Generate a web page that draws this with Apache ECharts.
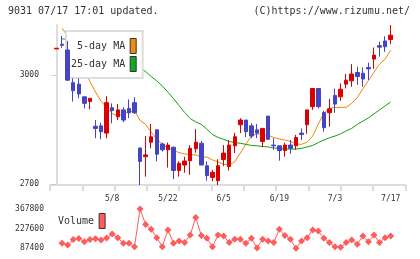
<!DOCTYPE html>
<html>
<head>
<meta charset="utf-8">
<script src="https://cdn.jsdelivr.net/npm/echarts@6/dist/echarts.min.js"></script>
<style>
  html, body { margin: 0; padding: 0; background: #fff; }
  #chart { width: 420px; height: 259px; }
</style>
</head>
<body>
<div id="chart"></div>
<script>
// daily candles, index 0..60 (last = 7/17)
const opens  = [3072,3085,3069,2979,2975,2940,2927,2859,2860,2840,2910,2885,2904,2908,2924,2799,2775,2815,2849,2810,2794,2801,2737,2752,2764,2797,2812,2750,2718,2709,2767,2748,2805,2863,2876,2860,2849,2817,2887,2807,2805,2792,2807,2805,2840,2863,2913,2963,2897,2896,2944,2940,2975,2984,3007,3005,3021,3044,3081,3094,3098];
const closes = [3074,3082,2986,2957,2948,2922,2936,2853,2844,2924,2902,2904,2876,2896,2896,2762,2780,2830,2782,2794,2807,2737,2757,2763,2798,2815,2752,2723,2732,2750,2785,2807,2830,2876,2844,2832,2840,2853,2823,2805,2792,2807,2798,2828,2836,2904,2963,2913,2855,2907,2920,2961,2986,3003,2996,2989,3017,3055,3077,3078,3110];
const lows   = [3072,3075,2984,2927,2936,2908,2906,2826,2823,2826,2867,2876,2870,2881,2893,2697,2720,2798,2762,2789,2745,2713,2720,2731,2725,2786,2752,2709,2707,2697,2749,2737,2785,2840,2829,2826,2826,2801,2823,2794,2764,2775,2783,2794,2821,2838,2904,2908,2844,2858,2896,2929,2963,2968,2973,2968,2986,3017,3051,3064,3085];
const highs  = [3074,3108,3094,2991,2991,2941,2937,2876,2869,2942,2922,2920,2911,2933,2939,2800,2832,2865,2849,2814,2814,2803,2762,2775,2807,2851,2818,2762,2739,2768,2807,2821,2841,2881,2876,2867,2865,2853,2887,2826,2805,2814,2821,2835,2853,2904,2963,2963,2902,2934,2963,2977,3003,3030,3023,3021,3034,3076,3092,3107,3138];

const ma5  = [null,3129,3107,3083,3052,3014,2982,2953,2928,2911,2894,2887,2894,2898,2902,2875,2864,2843,2824,2809,2799,2793,2786,2783,2780,2780,2774,2774,2766,2761,2754,2752,2761,2785,2810,2832,2838,2836,2834,2828,2824,2821,2817,2810,2809,2815,2832,2865,2895,2908,2911,2911,2911,2922,2938,2962,2985,3008,3030,3044,3069];
const ma25 = [null,3100,3098,3094,3089,3085,3080,3074,3067,3061,3054,3045,3037,3029,3021,3018,3010,2996,2984,2970,2953,2935,2916,2897,2880,2871,2864,2851,2836,2828,2823,2817,2814,2812,2809,2806,2805,2803,2802,2799,2798,2796,2796,2796,2798,2802,2806,2814,2821,2827,2832,2838,2846,2853,2864,2873,2882,2893,2904,2915,2926];

const volumes = [null,123000,111000,150000,158000,135000,151000,155000,147000,160000,190000,163000,123000,123000,99000,367800,258000,223000,163000,99000,218000,123000,140000,128000,182000,308000,178000,159000,99000,182000,175000,128000,152000,152000,123000,159000,90000,152000,140000,128000,223000,178000,152000,87400,140000,163000,218000,211000,159000,128000,99000,95000,128000,147000,116000,175000,135000,182000,128000,163000,175000];

const dateLabels = ['5/8', '5/22', '6/5', '6/19', '7/3', '7/17'];
const dateIdx = [10, 20, 30, 40, 50, 60];
const priceTicks = [2700, 3000];
const volTicks = [87400, 227600, 367800];

const mono = 'DejaVu Sans Mono';
const xMin = -1.17, xMax = 62.62;
const frameTicks = Array.from({ length: 12 }, (_, k) => xMin + k * (xMax - xMin) / 11);

const candleData = opens.map((o, i) => [i, o, closes[i], lows[i], highs[i]]);
const pairs = arr => arr.map((v, i) => [i, v]).filter(p => p[1] != null);
const plain = v => String(v);

const chart = echarts.init(document.getElementById('chart'));
chart.setOption({
  animation: false,
  title: [
    { text: '9031 07/17 17:01 updated.', left: 8, top: 6, padding: 0,
      textStyle: { fontFamily: mono, fontSize: 10, fontWeight: 'normal', color: '#333' } },
    { text: '(C)https://www.rizumu.net/', right: 10, top: 6, padding: 0,
      textStyle: { fontFamily: mono, fontSize: 10, fontWeight: 'normal', color: '#333' } }
  ],
  legend: [
    {
      data: ['5-day MA', '25-day MA'],
      orient: 'vertical', align: 'right', left: 66, top: 31,
      padding: [7, 6, 6, 5], itemGap: 2, itemWidth: 6, itemHeight: 15, icon: 'rect',
      borderColor: '#ddd', borderWidth: 2, backgroundColor: '#fff',
      itemStyle: { borderColor: '#333', borderWidth: 1 },
      textStyle: { fontFamily: mono, fontSize: 10, color: '#333' },
      selectedMode: false
    },
    {
      data: ['Volume'],
      align: 'right', left: 58, top: 213, padding: 0,
      itemWidth: 6, itemHeight: 15, icon: 'rect',
      itemStyle: { borderColor: '#333', borderWidth: 1 },
      textStyle: { fontFamily: mono, fontSize: 10, color: '#333' },
      selectedMode: false
    }
  ],
  grid: [
    { left: 50, top: 25, width: 355.3, height: 160 },
    { left: 50, top: 209, width: 355.3, height: 39.3 }
  ],
  xAxis: [
    {
      type: 'value', gridIndex: 0, min: xMin, max: xMax,
      axisLine: { show: true, lineStyle: { color: '#ddd', width: 2 } },
      axisTick: { show: true, customValues: frameTicks, length: 6, lineStyle: { color: '#ddd', width: 2 } },
      axisLabel: {
        customValues: dateIdx, margin: 10,
        fontFamily: mono, fontSize: 8, color: '#333',
        formatter: v => dateLabels[dateIdx.indexOf(Math.round(v))] || ''
      },
      splitLine: { show: false }
    },
    { type: 'value', gridIndex: 1, min: xMin, max: xMax, show: false }
  ],
  yAxis: [
    {
      type: 'value', gridIndex: 0, scale: true,
      min: v => v.min, max: v => v.max,
      axisLine: { show: true, lineStyle: { color: '#ddd', width: 2 } },
      axisTick: { show: true, customValues: priceTicks, length: 5, lineStyle: { color: '#ccc', width: 1 } },
      axisLabel: { customValues: priceTicks, margin: 11, fontFamily: mono, fontSize: 8, color: '#333', formatter: plain },
      splitLine: { show: false }
    },
    {
      type: 'value', gridIndex: 1, min: volTicks[0], max: volTicks[2],
      axisLine: { show: false }, axisTick: { show: false },
      axisLabel: { customValues: volTicks, margin: 6, fontFamily: mono, fontSize: 8, color: '#333', formatter: plain },
      splitLine: { show: false }
    }
  ],
  series: [
    {
      name: 'price', type: 'candlestick', xAxisIndex: 0, yAxisIndex: 0,
      data: candleData, encode: { x: 0, y: [1, 2, 3, 4] },
      barWidth: 4, clip: false, z: 5,
      itemStyle: { color: '#d80000', color0: '#4444c4', borderColor: '#d80000', borderColor0: '#4444c4', borderWidth: 1 }
    },
    {
      name: '5-day MA', type: 'line', xAxisIndex: 0, yAxisIndex: 0,
      data: pairs(ma5), symbol: 'none', z: 2,
      lineStyle: { color: '#f08800', width: 1 }, itemStyle: { color: '#f08c10' }
    },
    {
      name: '25-day MA', type: 'line', xAxisIndex: 0, yAxisIndex: 0,
      data: pairs(ma25), symbol: 'none', z: 2,
      lineStyle: { color: '#10a010', width: 1 }, itemStyle: { color: '#10a820' }
    },
    {
      name: 'Volume', type: 'line', xAxisIndex: 1, yAxisIndex: 1,
      data: pairs(volumes), symbol: 'diamond', symbolSize: 7,
      lineStyle: { color: '#ff5c5c', width: 1 }, itemStyle: { color: '#ff5c5c' }
    }
  ]
});
</script>
</body>
</html>
